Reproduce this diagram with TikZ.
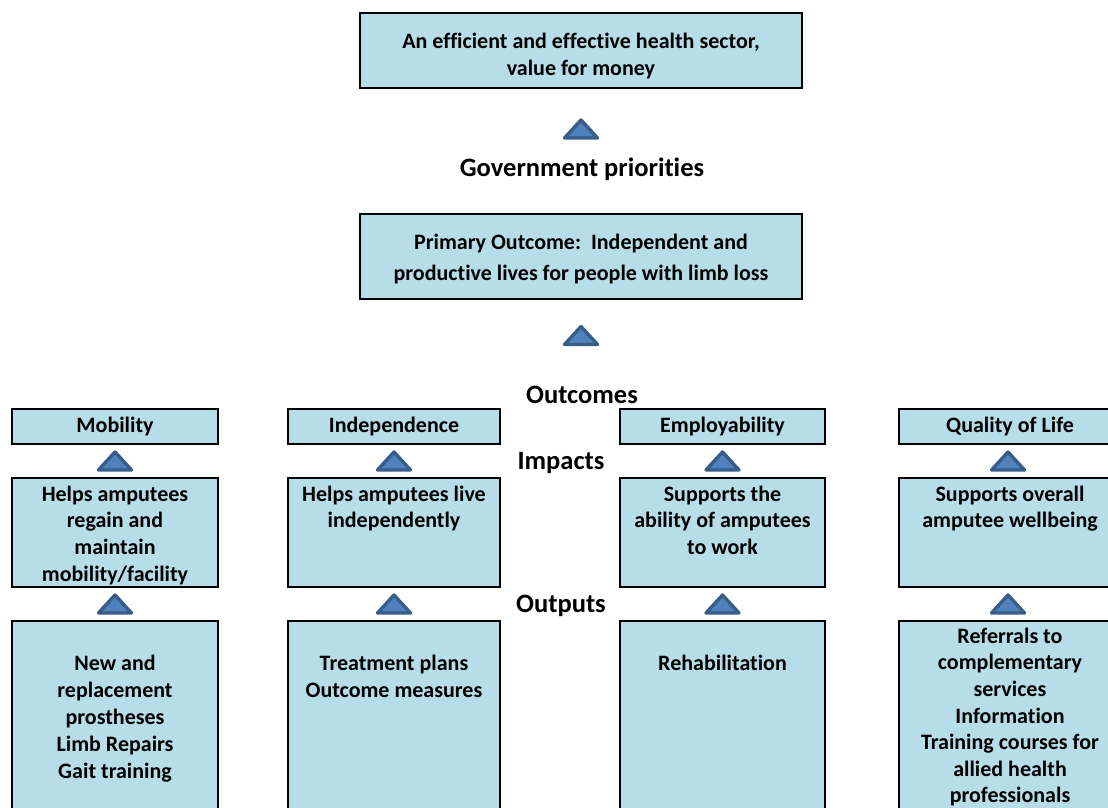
\documentclass[tikz,border=0pt]{standalone}
\usepackage{fontspec}
\setmainfont[Ligatures=NoCommon]{Carlito}
\usetikzlibrary{calc}
\definecolor{boxfill}{HTML}{B7DDE8}
\definecolor{trifill}{HTML}{4F81BD}
\definecolor{tridraw}{HTML}{385D8A}
\tikzset{
  box/.style={draw=black, line width=1.8pt, fill=boxfill, inner sep=0pt, outer sep=0pt, anchor=north west},
  boxtext/.style={anchor=north, inner sep=0pt, align=center, font=\bfseries\fontsize{22}{26.8}\selectfont},
  headtext/.style={inner sep=0pt, font=\bfseries\fontsize{26.5}{30}\selectfont},
  tri/.style={fill=trifill, draw=tridraw, line width=3.4pt, line join=round}
}
\newcommand\uptri[1]{\draw[tri] ($#1+(-16.5,9)$) -- ($#1+(16.5,9)$) -- ($#1+(0,-9)$) -- cycle;}
\begin{document}
\begin{tikzpicture}[x=1pt,y=-1pt]
\useasboundingbox (0,0) rectangle (1108,808);
\clip (0,0) rectangle (1108,808);
% top boxes
\node[box, minimum width=442, minimum height=75] (top) at (360,13) {};
\node[boxtext, font=\bfseries\fontsize{22}{27}\selectfont] (toptx) at ($(top.north)+(0,16.2)$) {\strut An efficient and effective health sector,\\ value for money};
\node[headtext] (gov) at (582,169) {Government priorities};
\node[box, minimum width=442, minimum height=85] (prim) at (360,214) {};
\node[boxtext, font=\bfseries\fontsize{22}{31}\selectfont] (primtx) at ($(prim.north)+(0,13.2)$) {\strut Primary Outcome:\ \ Independent and\\ productive lives for people with limb loss};
\node[headtext] (outc) at (582,395) {Outcomes};
\node[headtext] (impc) at (561,463) {Impacts};
\node[headtext] (outp) at (561,606) {Outputs};
% outcome row
\node[box, minimum width=206, minimum height=35] (o1) at (12,409) {};
\node[box, minimum width=212, minimum height=35] (o2) at (288,409) {};
\node[box, minimum width=205, minimum height=35] (o3) at (620,409) {};
\node[box, minimum width=215, minimum height=35] (o4) at (899,409) {};
\node[boxtext] (o1t) at ($(o1.north)+(0,4.2)$) {\strut Mobility};
\node[boxtext] (o2t) at ($(o2.north)+(0,4.2)$) {\strut Independence};
\node[boxtext] (o3t) at ($(o3.north)+(0,4.2)$) {\strut Employability};
\node[boxtext] (o4t) at ($(o4.north)+(3.5,4.2)$) {\strut Quality of Life};
% impact row
\node[box, minimum width=206, minimum height=109] (i1) at (12,478) {};
\node[box, minimum width=212, minimum height=109] (i2) at (288,478) {};
\node[box, minimum width=205, minimum height=109] (i3) at (620,478) {};
\node[box, minimum width=215, minimum height=109] (i4) at (899,478) {};
\node[boxtext] (i1t) at ($(i1.north)+(0,4.2)$) {\strut Helps amputees\\ regain and\\ maintain\\ mobility/facility};
\node[boxtext] (i2t) at ($(i2.north)+(0,4.2)$) {\strut Helps amputees live\\ independently};
\node[boxtext] (i3t) at ($(i3.north)+(0,4.2)$) {\strut Supports the\\ ability of amputees\\ to work};
\node[boxtext] (i4t) at ($(i4.north)+(3.5,4.2)$) {\strut Supports overall\\ amputee wellbeing};
% output row
\node[box, minimum width=206, minimum height=200] (p1) at (12,621) {};
\node[box, minimum width=212, minimum height=200] (p2) at (288,621) {};
\node[box, minimum width=205, minimum height=200] (p3) at (620,621) {};
\node[box, minimum width=215, minimum height=200] (p4) at (899,621) {};
\node[boxtext] (p1t) at ($(p1.north)+(0,31)$) {\strut New and\\ replacement\\ prostheses\\ Limb Repairs\\ Gait training};
\node[boxtext] (p2t) at ($(p2.north)+(0,31)$) {\strut Treatment plans\\ Outcome measures};
\node[boxtext] (p3t) at ($(p3.north)+(0,31)$) {\strut Rehabilitation};
\node[boxtext, font=\bfseries\fontsize{22}{26.6}\selectfont] (p4t) at ($(p4.north)+(3.5,3.5)$) {\strut Referrals to\\ complementary\\ services\\ Information\\ Training courses for\\ allied health\\ professionals};
% triangles
\uptri{(top.south |- 0,129)}
\uptri{(prim.south |- 0,335.5)}
\uptri{($(o1.south)!0.5!(i1.north)$)}
\uptri{($(o2.south)!0.5!(i2.north)$)}
\uptri{($(o3.south)!0.5!(i3.north)$)}
\uptri{($(o4.south)!0.5!(i4.north)+(1.5,0)$)}
\uptri{($(i1.south)!0.5!(p1.north)$)}
\uptri{($(i2.south)!0.5!(p2.north)$)}
\uptri{($(i3.south)!0.5!(p3.north)$)}
\uptri{($(i4.south)!0.5!(p4.north)+(1.5,0)$)}
\end{tikzpicture}
\end{document}
